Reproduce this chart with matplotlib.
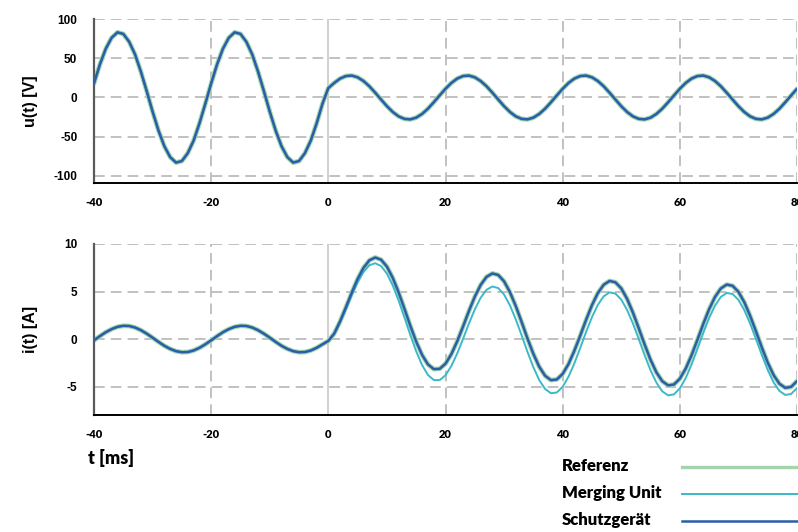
import matplotlib
matplotlib.use("Agg")
import matplotlib.pyplot as plt
from matplotlib.lines import Line2D

# time axis in ms, 1 ms steps
t_ms = list(range(-40, 81))

# voltage, t = -40 .. -1 (before fault)
u_pre = [18, 42, 62, 76, 83, 81, 71, 55, 33, 8, -18, -42, -62, -76, -83, -81, -71, -55, -33, -8,
         18, 42, 62, 76, 83, 81, 71, 55, 33, 8, -18, -42, -62, -76, -83, -81, -71, -55, -33, -8]
# voltage, t = 0 .. 80 (after fault)
u_post = [12,
          18.5, 24.1, 27.3, 27.9, 25.7, 21.0, 14.3, 6.1, -2.6, -11.1,
          -18.5, -24.1, -27.3, -27.9, -25.7, -21.0, -14.3, -6.1, 2.6, 11.1,
          18.5, 24.1, 27.3, 27.9, 25.7, 21.0, 14.3, 6.1, -2.6, -11.1,
          -18.5, -24.1, -27.3, -27.9, -25.7, -21.0, -14.3, -6.1, 2.6, 11.1,
          18.5, 24.1, 27.3, 27.9, 25.7, 21.0, 14.3, 6.1, -2.6, -11.1,
          -18.5, -24.1, -27.3, -27.9, -25.7, -21.0, -14.3, -6.1, 2.6, 11.1,
          18.5, 24.1, 27.3, 27.9, 25.7, 21.0, 14.3, 6.1, -2.6, -11.1,
          -18.5, -24.1, -27.3, -27.9, -25.7, -21.0, -14.3, -6.1, 2.6, 11.1]

# current, t = -40 .. -1
i_pre = [-0.14, 0.30, 0.71, 1.04, 1.28, 1.39, 1.37, 1.21, 0.93, 0.56,
         0.14, -0.30, -0.71, -1.04, -1.28, -1.39, -1.37, -1.21, -0.93, -0.56,
         -0.14, 0.30, 0.71, 1.04, 1.28, 1.39, 1.37, 1.21, 0.93, 0.56,
         0.14, -0.30, -0.71, -1.04, -1.28, -1.39, -1.37, -1.21, -0.93, -0.56]
# current Schutzgeraet / Referenz, t = 0 .. 80
i_sg_post = [-0.20,
             0.57, 1.85, 3.34, 4.89, 6.32, 7.49, 8.28, 8.58, 8.35, 7.62,
             6.43, 4.90, 3.17, 1.38, -0.28, -1.67, -2.67, -3.17, -3.14, -2.60,
             -1.59, -0.24, 1.32, 2.95, 4.45, 5.69, 6.54, 6.90, 6.74, 6.07,
             4.93, 3.46, 1.78, 0.04, -1.57, -2.92, -3.87, -4.33, -4.26, -3.67,
             -2.63, -1.23, 0.36, 2.02, 3.56, 4.83, 5.71, 6.11, 5.97, 5.33,
             4.22, 2.77, 1.11, -0.60, -2.19, -3.51, -4.44, -4.88, -4.79, -4.18,
             -3.12, -1.71, -0.09, 1.58, 3.14, 4.42, 5.32, 5.73, 5.60, 4.97,
             3.88, 2.44, 0.80, -0.90, -2.48, -3.79, -4.71, -5.14, -5.04, -4.43]
# current Merging Unit, t = 0 .. 80
i_mu_post = [-0.20,
             0.52, 1.73, 3.14, 4.61, 5.96, 7.05, 7.76, 7.98, 7.68, 6.88,
             5.63, 4.04, 2.25, 0.41, -1.30, -2.74, -3.78, -4.32, -4.33, -3.82,
             -2.84, -1.52, 0.02, 1.63, 3.11, 4.34, 5.18, 5.53, 5.36, 4.68,
             3.54, 2.06, 0.38, -1.36, -2.97, -4.32, -5.26, -5.71, -5.63, -5.03,
             -3.97, -2.55, -0.94, 0.74, 2.30, 3.59, 4.49, 4.91, 4.78, 4.15,
             3.06, 1.62, -0.02, -1.72, -3.29, -4.59, -5.51, -5.93, -5.83, -5.20,
             -4.12, -2.69, -1.05, 0.64, 2.21, 3.51, 4.43, 4.85, 4.74, 4.12,
             3.04, 1.62, -0.01, -1.69, -3.26, -4.56, -5.47, -5.89, -5.78, -5.16]

u_ref = u_pre + u_post
u_mu = u_pre + u_post
u_sg = u_pre + u_post
i_ref = i_pre + i_sg_post
i_mu = i_pre + i_mu_post
i_sg = i_pre + i_sg_post

x_ticks = [-40, -20, 0, 20, 40, 60, 80]
u_ticks = [-100, -50, 0, 50, 100]
i_ticks = [-5, 0, 5, 10]

series_names = ["Referenz", "Merging Unit", "Schutzgerät"]
colors = ["#a3d4ac", "#3ab9c9", "#2b5ea6"]
widths = [3.4, 1.4, 1.8]

W, H = 798, 532
fig = plt.figure(figsize=(W / 100, H / 100), dpi=100)
ax_u = fig.add_axes([94 / W, 1 - 183 / H, (797 - 94) / W, (183 - 19) / H])
ax_i = fig.add_axes([94 / W, 1 - 415 / H, (797 - 94) / W, (415 - 244) / H])

tick_font_y = dict(family="Liberation Sans", weight="bold", size=8.5)
tick_font_x = dict(family="Lato", weight="heavy", size=8)
label_font = dict(family="Liberation Sans", weight="bold", size=11.5)


def style_axis(ax, yticks, ylim, ylabel):
    ax.set_xlim(-40, 80)
    ax.set_ylim(*ylim)
    ax.set_xticks(x_ticks)
    ax.set_yticks(yticks)
    ax.set_xticklabels([str(v) for v in x_ticks], fontdict=tick_font_x)
    ax.set_yticklabels([str(v) for v in yticks], fontdict=tick_font_y)
    ax.tick_params(axis="both", length=0)
    ax.tick_params(axis="x", pad=10)
    ax.tick_params(axis="y", pad=12)
    ax.grid(True, color="#b0b0b0", lw=1.1, ls=(0, (7, 4)))
    ax.set_axisbelow(True)
    # the t = 0 line is solid
    for gl, v in zip(ax.xaxis.get_gridlines(), x_ticks):
        if v == 0:
            gl.set_linestyle("-")
            gl.set_color("#c4c4c4")
    for s in ["top", "right"]:
        ax.spines[s].set_visible(False)
    ax.spines["left"].set_color("#5a5a5a")
    ax.spines["left"].set_linewidth(1.6)
    ax.spines["bottom"].set_color("black")
    ax.spines["bottom"].set_linewidth(1.4)
    ax.set_ylabel(ylabel, fontdict=label_font)
    ax.yaxis.set_label_coords(-0.08, 0.5)


for ys, c, lw, z in zip([u_ref, u_mu, u_sg], colors, widths, [2, 3, 4]):
    ax_u.plot(t_ms, ys, color=c, lw=lw, zorder=z, solid_capstyle="round", solid_joinstyle="round")
for ys, c, lw, z in zip([i_ref, i_mu, i_sg], colors, widths, [2, 3, 4]):
    ax_i.plot(t_ms, ys, color=c, lw=lw, zorder=z, solid_capstyle="round", solid_joinstyle="round")

style_axis(ax_u, u_ticks, (-109, 100), "u(t) [V]")
style_axis(ax_i, i_ticks, (-8, 10), "i(t) [A]")

fig.text(88 / W, 1 - 458 / H, "t [ms]", ha="left", va="center",
         family="Lato", weight="heavy", size=13)

# legend: text on the left, line sample on the right
legend_y = [466, 493, 520]
for name, c, lw, y in zip(series_names, colors, widths, legend_y):
    fig.text(562 / W, 1 - y / H, name, ha="left", va="center",
             family="Lato", weight="heavy", size=12)
    fig.add_artist(Line2D([682 / W, 1.0], [1 - (y + 1) / H] * 2, color=c,
                          lw=min(lw, 2.4), transform=fig.transFigure))

fig.savefig("out.png", dpi=100)
